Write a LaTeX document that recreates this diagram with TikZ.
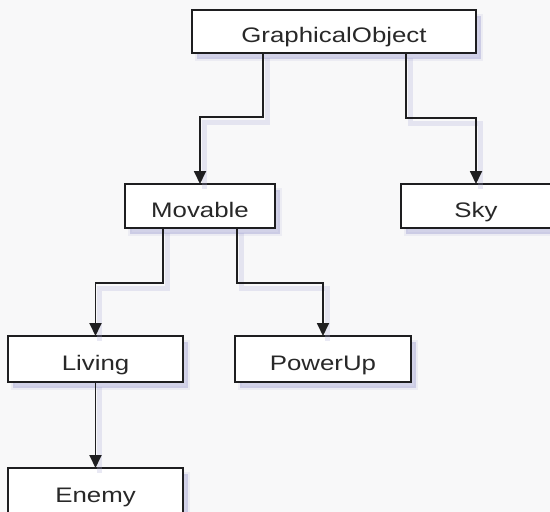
\documentclass[tikz,border=0pt]{standalone}
\usepackage{fontspec}
\setmainfont[FakeStretch=1.23]{Liberation Sans}
\usetikzlibrary{arrows.meta,shadows}
\definecolor{bgc}{RGB}{248,248,249}
\definecolor{linec}{RGB}{30,30,32}
\definecolor{textc}{RGB}{40,40,40}
\definecolor{shadc}{RGB}{170,170,215}
\tikzset{
  cls/.style={draw=linec, line width=1.5pt, fill=white, inner sep=0pt, outer sep=0pt,
    text=textc, font=\fontsize{21}{24}\selectfont, text height=22pt, text depth=0pt,
    general shadow={shadow xshift=5pt, shadow yshift=-6pt, fill=shadc, opacity=0.25, draw=shadc, line width=4pt, draw opacity=0.15},
    general shadow={shadow xshift=5pt, shadow yshift=-6pt, fill=shadc, opacity=0.3}},
  conn/.style={draw=linec, line width=1.8pt, -{Triangle[width=12pt,length=13pt]},
    preaction={draw=shadc, draw opacity=0.25, line width=5pt, -,
      transform canvas={shift={(4pt,-5pt)}}}}
}
\begin{document}
\begin{tikzpicture}[x=1pt,y=-1pt]
\useasboundingbox[fill=bgc] (0,0) rectangle (550,512);
\node[cls, minimum width=284pt, minimum height=43pt] (go) at (334,31.5) {GraphicalObject};
\node[cls, minimum width=150pt, minimum height=44pt] (mov) at (200,206) {Movable};
\node[cls, minimum width=150pt, minimum height=44pt] (sky) at (476,206) {Sky};
\node[cls, minimum width=175pt, minimum height=46pt] (liv) at (95.5,359) {Living};
\node[cls, minimum width=176pt, minimum height=46pt] (pow) at (323,359) {PowerUp};
\node[cls, minimum width=175pt, minimum height=46pt] (ene) at (95.5,491) {Enemy};
\draw[conn] ([xshift=71pt]go.south west) -- ++(0,64) -| (mov.north);
\draw[conn] ([xshift=-70pt]go.south east) -- ++(0,65) -| (sky.north);
\draw[conn] ([xshift=38pt]mov.south west) -- ++(0,55) -| (liv.north);
\draw[conn] ([xshift=-38pt]mov.south east) -- ++(0,55) -| (pow.north);
\draw[conn] (liv.south) -- (ene.north);
\end{tikzpicture}
\end{document}
